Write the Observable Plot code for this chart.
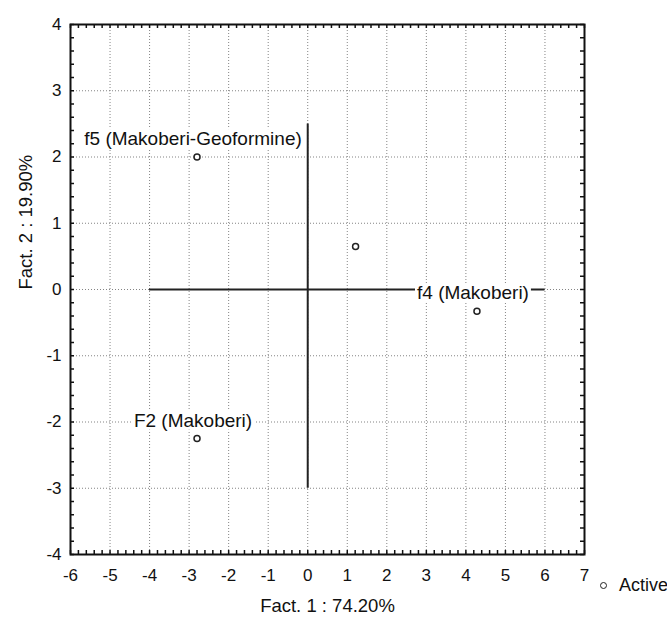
<!DOCTYPE html>
<html><head><meta charset="utf-8">
<script src="https://cdn.jsdelivr.net/npm/d3@7"></script>
<script src="https://cdn.jsdelivr.net/npm/@observablehq/plot@0.6"></script>
<style>
html,body{margin:0;padding:0;background:#fff;}
#wrap{position:relative;width:667px;height:626px;font-family:"Liberation Sans",Arial,sans-serif;}
#wrap svg{background:linear-gradient(#fdf8ee,#fdf8ee) 10px 7px / 100% 100% no-repeat, #fff;}
#legend{position:absolute;left:600px;top:575px;font-size:18px;color:#111;white-space:nowrap;display:flex;align-items:center;}
#legend span.c{display:inline-block;width:5px;height:5px;border:1.3px solid #222;border-radius:50%;margin-right:12px;background:#fff;}
</style></head>
<body><div id="wrap"><div id="legend"><span class="c"></span>Active</div></div>
<script>
const names = ["f5 (Makoberi-Geoformine)", "", "f4 (Makoberi)", "F2 (Makoberi)"];
const fact1 = [-2.8, 1.21, 4.28, -2.8];
const fact2 = [2.0, 0.65, -0.33, -2.25];
const xTicks = [-6,-5,-4,-3,-2,-1,0,1,2,3,4,5,6,7];
const yTicks = [-4,-3,-2,-1,0,1,2,3,4];
const crossV = [{x:0, y1:-3, y2:2.5}];
const crossH = [{y:0, x1:-4, x2:6}];
const xTitle = "Fact. 1 : 74.20%";
const yTitle = "Fact. 2 : 19.90%";

const points = names.map((n,i)=>({name:n, x:fact1[i], y:fact2[i]}));
const minorX = d3.range(-6, 7.0001, 0.2);
const minorY = d3.range(-4, 4.0001, 0.2);

const W = 667, H = 626, mL = 70, mR = 83, mT = 24, mB = 72;
const pw = W - mL - mR, ph = H - mT - mB;
const FONT = '"Liberation Sans", Arial, sans-serif';

const chart = Plot.plot({
  width: W, height: H,
  marginLeft: mL, marginRight: mR, marginTop: mT, marginBottom: mB,
  style: {fontFamily: FONT, fontSize: "17px", color: "#111", background: "transparent"},
  x: {domain: [-6, 7], ticks: xTicks, label: null, tickFormat: d => String(d)},
  y: {domain: [-4, 4], ticks: yTicks, label: null, tickFormat: d => String(d)},
  marks: [
    Plot.frame({fill: "white", stroke: null}),
    Plot.gridX(xTicks, {stroke: "#777", strokeOpacity: 0.9, strokeDasharray: "1,2", strokeWidth: 1}),
    Plot.gridY(yTicks, {stroke: "#777", strokeOpacity: 0.9, strokeDasharray: "1,2", strokeWidth: 1}),
    Plot.tickX(minorX, {x: d=>d, insetTop: ph - 4, stroke: "#111", strokeWidth: 1.5}),
    Plot.tickX(minorX, {x: d=>d, insetBottom: ph - 4, stroke: "#111", strokeWidth: 1.5}),
    Plot.tickY(minorY, {y: d=>d, insetRight: pw - 4, stroke: "#111", strokeWidth: 1.5}),
    Plot.tickY(minorY, {y: d=>d, insetLeft: pw - 4, stroke: "#111", strokeWidth: 1.5}),
    Plot.ruleX(crossV, {x: "x", y1: "y1", y2: "y2", stroke: "#222", strokeWidth: 2}),
    Plot.ruleY(crossH, {y: "y", x1: "x1", x2: "x2", stroke: "#222", strokeWidth: 2}),
    Plot.frame({stroke: "#111", strokeWidth: 2}),
    Plot.axisX(xTicks, {tickSize: 0, tickPadding: 14, fontSize: 17, label: null, tickFormat: d => String(d)}),
    Plot.axisY(yTicks, {tickSize: 0, tickPadding: 9, fontSize: 17, label: null, tickFormat: d => String(d)}),
    Plot.dot(points, {x: "x", y: "y", r: 3, stroke: "#222", strokeWidth: 1.5, fill: "white"}),
    Plot.text(points.filter(d=>d.name), {x: "x", y: "y", text: "name", dx: -4, dy: -18, fontSize: 19, fill: "#111"}),
    Plot.text([xTitle], {frameAnchor: "bottom", text: d=>d, dy: 57, fontSize: 18.5, fill: "#111"}),
    Plot.text([yTitle], {frameAnchor: "left", text: d=>d, dx: -44, rotate: -90, fontSize: 18.5, fill: "#111"})
  ]
});
document.getElementById("wrap").prepend(chart);

// white boxes behind point labels
const labelSet = new Set(names.filter(n => n));
chart.querySelectorAll("text").forEach(t => {
  if (!labelSet.has(t.textContent)) return;
  const b = t.getBBox();
  const r = document.createElementNS("http://www.w3.org/2000/svg", "rect");
  r.setAttribute("x", b.x - 2); r.setAttribute("y", b.y + 1);
  r.setAttribute("width", b.width + 4); r.setAttribute("height", b.height - 2);
  r.setAttribute("fill", "white");
  const tr = t.getAttribute("transform");
  if (tr) r.setAttribute("transform", tr);
  t.parentNode.insertBefore(r, t);
});
</script></body></html>
